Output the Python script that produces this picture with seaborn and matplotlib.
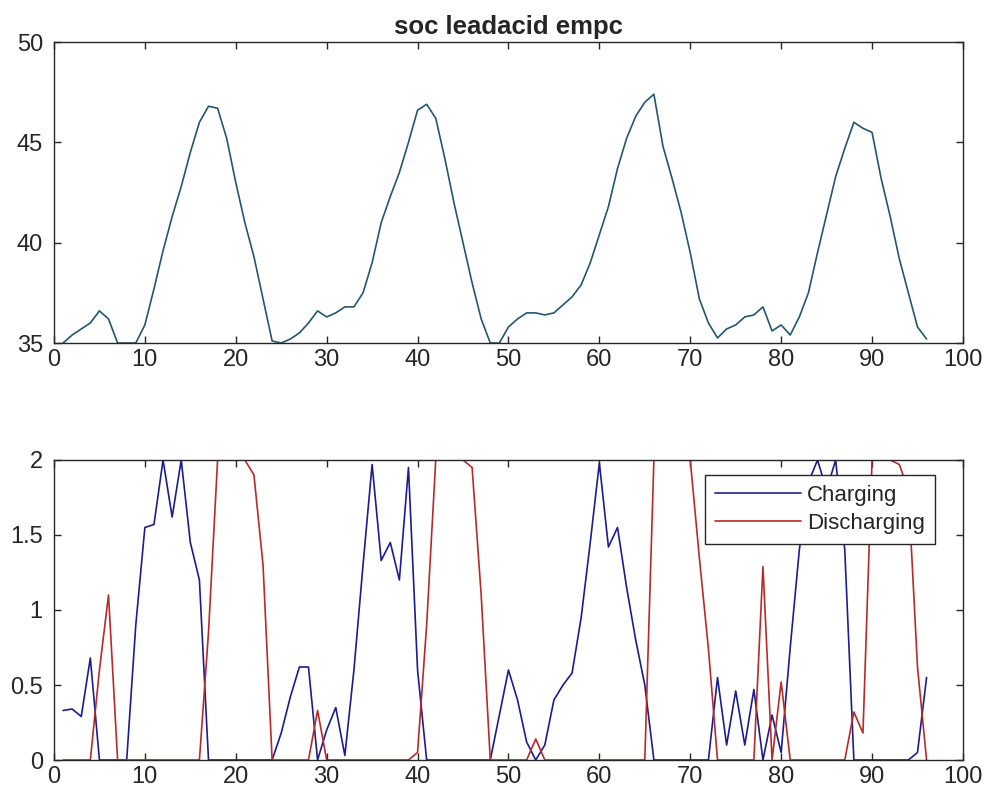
import numpy as np
import pandas as pd
import matplotlib
matplotlib.use("Agg")
import matplotlib.pyplot as plt
import seaborn as sns

# time steps (15 min slots over one day)
steps = list(range(1, 97))

# state of charge of the lead acid battery
soc = [35.0, 35.4, 35.7, 36.0, 36.6, 36.2, 35.0, 35.0, 35.0, 35.9,
       37.7, 39.6, 41.3, 42.8, 44.5, 46.0, 46.8, 46.7, 45.2, 43.0,
       41.0, 39.3, 37.2, 35.1, 35.0, 35.2, 35.5, 36.0, 36.6, 36.3,
       36.5, 36.8, 36.8, 37.5, 39.0, 41.0, 42.3, 43.5, 45.0, 46.6,
       46.9, 46.2, 44.2, 42.0, 40.0, 38.0, 36.2, 35.0, 35.0, 35.8,
       36.2, 36.5, 36.5, 36.4, 36.5, 36.9, 37.3, 37.9, 39.0, 40.4,
       41.8, 43.7, 45.2, 46.3, 47.0, 47.4, 44.8, 43.2, 41.5, 39.5,
       37.2, 36.0, 35.25, 35.7, 35.9, 36.3, 36.4, 36.8, 35.6, 35.9,
       35.4, 36.3, 37.5, 39.5, 41.4, 43.3, 44.7, 46.0, 45.7, 45.5,
       43.2, 41.3, 39.2, 37.5, 35.8, 35.2]

# charging power
charging = [0.33, 0.34, 0.29, 0.68, 0.0, 0.0, 0.0, 0.0, 0.9, 1.55,
            1.57, 2.0, 1.62, 2.0, 1.45, 1.2, 0.0, 0.0, 0.0, 0.0,
            0.0, 0.0, 0.0, 0.0, 0.18, 0.42, 0.62, 0.62, 0.0, 0.2,
            0.35, 0.03, 0.6, 1.3, 1.97, 1.33, 1.45, 1.2, 1.95, 0.6,
            0.0, 0.0, 0.0, 0.0, 0.0, 0.0, 0.0, 0.0, 0.3, 0.6,
            0.4, 0.12, 0.0, 0.1, 0.4, 0.5, 0.58, 0.95, 1.45, 1.98,
            1.42, 1.55, 1.15, 0.8, 0.5, 0.0, 0.0, 0.0, 0.0, 0.0,
            0.0, 0.0, 0.55, 0.1, 0.46, 0.1, 0.47, 0.0, 0.3, 0.05,
            0.75, 1.4, 1.85, 2.0, 1.8, 2.0, 1.4, 0.0, 0.0, 0.0,
            0.0, 0.0, 0.0, 0.0, 0.05, 0.55]

# discharging power
discharging = [0.0, 0.0, 0.0, 0.0, 0.6, 1.1, 0.0, 0.0, 0.0, 0.0,
               0.0, 0.0, 0.0, 0.0, 0.0, 0.0, 0.85, 2.0, 2.0, 2.0,
               2.0, 1.9, 1.3, 0.0, 0.0, 0.0, 0.0, 0.0, 0.33, 0.0,
               0.0, 0.0, 0.0, 0.0, 0.0, 0.0, 0.0, 0.0, 0.0, 0.05,
               0.9, 2.0, 2.0, 2.0, 2.0, 1.95, 1.1, 0.0, 0.0, 0.0,
               0.0, 0.0, 0.14, 0.0, 0.0, 0.0, 0.0, 0.0, 0.0, 0.0,
               0.0, 0.0, 0.0, 0.0, 0.0, 2.0, 2.0, 2.0, 2.0, 2.0,
               1.35, 0.74, 0.0, 0.0, 0.0, 0.0, 0.0, 1.29, 0.0, 0.52,
               0.0, 0.0, 0.0, 0.0, 0.0, 0.0, 0.0, 0.32, 0.18, 2.0,
               2.0, 2.0, 1.97, 1.8, 0.62, 0.0]

sns.set_style("ticks")
plt.rcParams['font.family'] = ['Liberation Sans', 'DejaVu Sans']

df_soc = pd.DataFrame({'step': steps, 'soc': soc})
df_pow = pd.concat([
    pd.DataFrame({'step': steps, 'power': charging, 'mode': 'Charging'}),
    pd.DataFrame({'step': steps, 'power': discharging, 'mode': 'Discharging'}),
])

fig = plt.figure(figsize=(9.85, 7.99), dpi=100)
ax1 = fig.add_axes([0.0548, 0.5707, 0.9228, 0.3767])
ax2 = fig.add_axes([0.0548, 0.0488, 0.9228, 0.3755])

# top: soc
sns.lineplot(data=df_soc, x='step', y='soc', ax=ax1, color='#24566e', linewidth=1.2)
ax1.set_xlim(0, 100)
ax1.set_ylim(35, 50)
ax1.set_yticks([35, 40, 45, 50])
ax1.set_title('soc leadacid empc', fontsize=18.5, fontweight='bold', pad=6)

# bottom: charging / discharging
sns.lineplot(data=df_pow, x='step', y='power', hue='mode', ax=ax2,
             palette={'Charging': '#1c1c8f', 'Discharging': '#b82a2a'}, linewidth=1.2)
ax2.set_xlim(0, 100)
ax2.set_ylim(0, 2)
ax2.set_yticks([0, 0.5, 1, 1.5, 2])
ax2.set_yticklabels(['0', '0.5', '1', '1.5', '2'])
handles, labels = ax2.get_legend_handles_labels()
leg = ax2.legend(handles, labels, loc='upper right', bbox_to_anchor=(0.969, 0.95),
                 borderaxespad=0, fontsize=16, handlelength=3.9, fancybox=False,
                 framealpha=1, edgecolor='#262626', borderpad=0.45, labelspacing=0.3,
                 handletextpad=0.25)
leg.get_frame().set_linewidth(1.0)

for ax in (ax1, ax2):
    ax.set_xticks(range(0, 101, 10))
    ax.set_xlabel('')
    ax.set_ylabel('')
    for s in ax.spines.values():
        s.set_visible(True)
        s.set_linewidth(1.0)
        s.set_color('#262626')
    ax.tick_params(direction='in', top=True, right=True, length=5, width=1.0,
                   labelsize=17, colors='#262626')
    ax.tick_params(axis='x', pad=4)
    ax.tick_params(axis='y', pad=8)

fig.savefig('out.png', dpi=100)
